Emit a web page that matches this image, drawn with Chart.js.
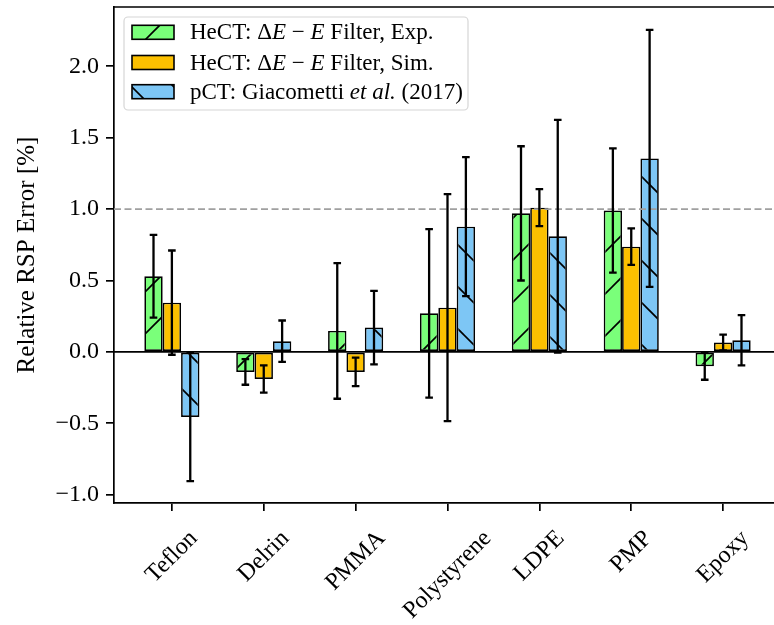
<!DOCTYPE html>
<html><head><meta charset="utf-8">
<script src="https://cdn.jsdelivr.net/npm/chart.js@4.4.0/dist/chart.umd.min.js"></script>
<style>
html,body{margin:0;padding:0;overflow:hidden;background:#fff;}
#wrap{position:relative;width:790px;height:625px;}
#legend{position:absolute;left:190px;top:0;font-family:'Liberation Serif',serif;font-size:23px;color:#000;}
#legend div{position:absolute;white-space:nowrap;left:0;height:28px;line-height:28px;}
</style></head><body>
<div id="wrap"><canvas id="c" width="790" height="625"></canvas><div id="legend"></div></div>
<script>
// ---- data ----
const categories = ['Teflon', 'Delrin', 'PMMA', 'Polystyrene', 'LDPE', 'PMP', 'Epoxy'];
const seriesLabels = ['HeCT: ΔE − E Filter, Exp.', 'HeCT: ΔE − E Filter, Sim.', 'pCT: Giacometti et al. (2017)'];
const seriesLabelsHtml = ['HeCT: Δ<i>E</i> − <i>E</i> Filter, Exp.', 'HeCT: Δ<i>E</i> − <i>E</i> Filter, Sim.', 'pCT: Giacometti <i>et al.</i> (2017)'];
const expValues = [0.53, -0.14, 0.147, 0.27, 0.97, 0.99, -0.10];
const expErrors = [0.29, 0.09, 0.475, 0.59, 0.47, 0.435, 0.095];
const simValues = [0.345, -0.19, -0.14, 0.31, 1.01, 0.737, 0.066];
const simErrors = [0.365, 0.095, 0.10, 0.795, 0.13, 0.128, 0.055];
const pctValues = [-0.455, 0.075, 0.17, 0.877, 0.81, 1.355, 0.082];
const pctErrors = [0.45, 0.145, 0.257, 0.487, 0.815, 0.90, 0.176];
const yTickValues = [-1.0, -0.5, 0.0, 0.5, 1.0, 1.5, 2.0];
const zeroLevel = 0.0;
const targetLevel = 1.0;

// ---- styles ----
const FONT = "'Liberation Serif', 'Times New Roman', serif";
const colors = ['#7AFF7A', '#FCC000', '#7DC6F5'];
const hatches = ['/', '', '\\'];
const HATCH = 42;

function makePattern(ctx, color, hatch) {
  if (!hatch) return color;
  const t = document.createElement('canvas');
  t.width = HATCH; t.height = HATCH;
  const c = t.getContext('2d');
  c.fillStyle = color; c.fillRect(0, 0, HATCH, HATCH);
  c.strokeStyle = '#000'; c.lineWidth = 1.7;
  for (let k = -2; k <= 2; k++) {
    c.beginPath();
    if (hatch === '/') { const p = 17 + k * HATCH; c.moveTo(-5, p + 5); c.lineTo(p + 5, -5); }
    else { const p = 39 + k * HATCH; c.moveTo(-5, p - 5); c.lineTo(HATCH + 5, p + HATCH + 5); }
    c.stroke();
  }
  return ctx.createPattern(t, 'repeat');
}

const canvas = document.getElementById('c');
const ctx0 = canvas.getContext('2d');
const fills = colors.map((c, i) => makePattern(ctx0, c, hatches[i]));
const series = [
  { values: expValues, errors: expErrors },
  { values: simValues, errors: simErrors },
  { values: pctValues, errors: pctErrors }
];

const legendRows = [32.3, 62.5, 91.7];

const decor = {
  id: 'decor',
  afterDatasetsDraw(chart) {
    const { ctx, chartArea: a, scales: { x, y } } = chart;
    ctx.save();
    ctx.beginPath(); ctx.rect(a.left, a.top, a.right - a.left, a.bottom - a.top); ctx.clip();
    ctx.lineWidth = 1.6; ctx.strokeStyle = '#000';
    let yp = y.getPixelForValue(zeroLevel);
    ctx.beginPath(); ctx.moveTo(a.left, yp); ctx.lineTo(a.right, yp); ctx.stroke();
    ctx.setLineDash([7, 3.5]); ctx.strokeStyle = '#a0a0a0';
    yp = y.getPixelForValue(targetLevel);
    ctx.beginPath(); ctx.moveTo(a.left, yp); ctx.lineTo(a.right, yp); ctx.stroke();
    ctx.setLineDash([]);
    ctx.strokeStyle = '#000'; ctx.lineWidth = 2.3; ctx.lineCap = 'butt';
    series.forEach((s, di) => {
      const meta = chart.getDatasetMeta(di);
      meta.data.forEach((bar, j) => {
        const y1 = y.getPixelForValue(s.values[j] + s.errors[j]);
        const y2 = y.getPixelForValue(s.values[j] - s.errors[j]);
        const bx = bar.x;
        ctx.beginPath();
        ctx.moveTo(bx, y1); ctx.lineTo(bx, y2);
        ctx.moveTo(bx - 3.8, y1); ctx.lineTo(bx + 3.8, y1);
        ctx.moveTo(bx - 3.8, y2); ctx.lineTo(bx + 3.8, y2);
        ctx.stroke();
      });
    });
    ctx.restore();
  },
  afterDraw(chart) {
    const { ctx, chartArea: a, scales: { x } } = chart;
    ctx.save();
    ctx.strokeStyle = '#000'; ctx.lineWidth = 1.7;
    ctx.beginPath(); ctx.moveTo(a.left, a.top); ctx.lineTo(a.right, a.top); ctx.lineTo(a.right, a.bottom); ctx.stroke();
    // legend frame
    const lx = 124, ly = 17, lw = 344, lh = 93, r = 4;
    ctx.beginPath();
    ctx.moveTo(lx + r, ly); ctx.lineTo(lx + lw - r, ly); ctx.arcTo(lx + lw, ly, lx + lw, ly + r, r);
    ctx.lineTo(lx + lw, ly + lh - r); ctx.arcTo(lx + lw, ly + lh, lx + lw - r, ly + lh, r);
    ctx.lineTo(lx + r, ly + lh); ctx.arcTo(lx, ly + lh, lx, ly + lh - r, r);
    ctx.lineTo(lx, ly + r); ctx.arcTo(lx, ly, lx + r, ly, r); ctx.closePath();
    ctx.fillStyle = 'rgba(255,255,255,0.85)'; ctx.fill();
    ctx.strokeStyle = '#d6d6d6'; ctx.lineWidth = 1.2; ctx.stroke();
    legendRows.forEach((cy, i) => {
      ctx.fillStyle = fills[i];
      ctx.fillRect(132, cy - 7, 42, 14);
      ctx.strokeStyle = '#000'; ctx.lineWidth = 1.6;
      ctx.strokeRect(132, cy - 7, 42, 14);
    });
    // rotated category labels (centered like matplotlib ha='center')
    ctx.fillStyle = '#000';
    ctx.font = '24px ' + FONT;
    ctx.textAlign = 'center'; ctx.textBaseline = 'middle';
    const h = 22;
    categories.forEach((lab, i) => {
      const px = x.getPixelForValue(i);
      const w = ctx.measureText(lab).width;
      const bb = (w + h) / Math.SQRT2;
      const cy = a.bottom + 24 + bb / 2;
      ctx.save();
      ctx.translate(px, cy);
      ctx.rotate(-Math.PI / 4);
      ctx.fillText(lab, 0, 0);
      ctx.restore();
    });
    ctx.restore();
  }
};

const legendDiv = document.getElementById('legend');
seriesLabelsHtml.forEach((t, i) => {
  const d = document.createElement('div');
  d.style.top = (legendRows[i] - 14) + 'px';
  d.innerHTML = t;
  legendDiv.appendChild(d);
});

new Chart(canvas, {
  type: 'bar',
  data: {
    datasets: series.map((s, i) => ({
      label: seriesLabels[i],
      data: s.values.map((v, j) => ({ x: j, y: v })),
      backgroundColor: fills[i],
      borderColor: '#000',
      borderWidth: 1.7,
      borderSkipped: false,
      categoryPercentage: 0.6,
      barPercentage: 1.0
    }))
  },
  options: {
    responsive: false,
    devicePixelRatio: 1,
    animation: false,
    events: [],
    layout: { padding: { left: 0, right: 9, top: 7, bottom: 0 } },
    plugins: { legend: { display: false }, tooltip: { enabled: false } },
    scales: {
      x: {
        type: 'linear',
        offset: false,
        min: -0.63, max: 6.63,
        afterBuildTicks: s => { s.ticks = categories.map((_, i) => ({ value: i })); },
        afterFit: s => { s.height = 122; s.paddingLeft = 0; s.paddingRight = 0; },
        ticks: { display: false },
        grid: { display: true, offset: false, drawOnChartArea: false, drawTicks: true, tickLength: 8, color: '#000', lineWidth: 1.7 },
        border: { display: true, color: '#000', width: 1.7 }
      },
      y: {
        type: 'linear',
        min: -1.058, max: 2.415,
        afterBuildTicks: s => { s.ticks = yTickValues.map(v => ({ value: v })); },
        afterFit: s => { s.width = 114; s.paddingTop = 0; s.paddingBottom = 0; },
        ticks: {
          color: '#000', padding: 7,
          font: { family: FONT, size: 24 },
          callback: v => (v < 0 ? '−' : '') + Math.abs(v).toFixed(1)
        },
        grid: { display: true, drawOnChartArea: false, drawTicks: true, tickLength: 8, color: '#000', lineWidth: 1.7 },
        border: { display: true, color: '#000', width: 1.7 },
        title: {
          display: true, text: 'Relative RSP Error [%]', color: '#000',
          font: { family: FONT, size: 25 }, padding: { top: 12, bottom: 0 }
        }
      }
    }
  },
  plugins: [decor]
});
</script>
</body></html>
